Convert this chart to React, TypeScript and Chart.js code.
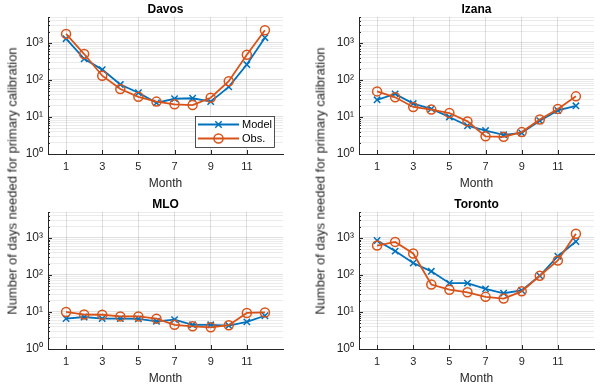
import React, { useEffect, useRef } from 'react';
import { Chart, registerables } from 'chart.js';

Chart.register(...registerables);

// ---- data ----
const months = [1, 2, 3, 4, 5, 6, 7, 8, 9, 10, 11, 12];
const xTickValues = [1, 3, 5, 7, 9, 11];
const yDecades = [1, 10, 100, 1000];
const yMinorSteps = [1, 2, 3, 4, 5, 6, 7, 8, 9];
const yMin = 1;
const yMax = 5000;

const davosModel = [1300, 370, 190, 75, 45, 24, 31, 32, 26, 65, 260, 1380];
const davosObs = [1750, 500, 130, 57, 35, 26, 22, 21, 33, 92, 480, 2200];
const izanaModel = [29, 42, 23, 16.5, 10, 5.8, 4.3, 3.3, 3.7, 7.9, 15, 20];
const izanaObs = [49, 34, 18.6, 15.8, 12.8, 7.6, 3.0, 2.9, 3.9, 8.5, 16.5, 36];
const mloModel = [6.6, 7.3, 6.6, 6.6, 6.5, 5.6, 6.2, 4.5, 4.5, 4.3, 5.4, 7.9];
const mloObs = [10, 8.5, 8.4, 7.6, 7.6, 6.6, 4.5, 4.1, 3.85, 4.4, 9.4, 9.7];
const torontoModel = [850, 440, 210, 125, 60, 60, 42, 32, 38, 95, 320, 800];
const torontoObs = [620, 780, 380, 55, 40, 34, 25.6, 23, 36, 95, 245, 1300];

const seriesLabels = ['Model', 'Obs.'];
const xTitle = 'Month';
const yTitle = 'Number of days needed for primary calibration';

// ---- styles ----
const BLUE = '#0072BD';
const ORANGE = '#D95319';
const TEXT = '#262626';
const FONT = '"Liberation Sans", Arial, Helvetica, sans-serif';
const GRID_MAJOR = 'rgba(38,38,38,0.15)';
const GRID_MINOR = 'rgba(38,38,38,0.09)';

const yTickValues: number[] = [];
yDecades.forEach((d) => yMinorSteps.forEach((s) => { if (d * s <= yMax) yTickValues.push(d * s); }));

const SUP: Record<string, string> = { '0': '\u2070', '1': '\u00B9', '2': '\u00B2', '3': '\u00B3', '4': '\u2074', '5': '\u2075' };
const isDecade = (v: number) => {
  const e = Math.log10(v);
  return Math.abs(e - Math.round(e)) < 1e-9;
};

function drawCross(ctx: CanvasRenderingContext2D, x: number, y: number, r: number) {
  ctx.beginPath();
  ctx.moveTo(x - r, y - r); ctx.lineTo(x + r, y + r);
  ctx.moveTo(x - r, y + r); ctx.lineTo(x + r, y - r);
  ctx.stroke();
}

type PanelProps = {
  title: string;
  model: number[];
  obs: number[];
  left: number;
  top: number;
  yAxisWidth: number;
  rightPad: number;
  showLegend?: boolean;
};

function Panel({ title, model, obs, left, top, yAxisWidth, rightPad, showLegend }: PanelProps) {
  const ref = useRef<HTMLCanvasElement>(null);
  useEffect(() => {
    const canvas = ref.current!;
    const decor = {
      id: 'decor',
      beforeDatasetsDraw(chart: any) {
        const { ctx, chartArea } = chart;
        const ys = chart.scales.y;
        const xs = chart.scales.x;
        ctx.save();
        ctx.strokeStyle = TEXT;
        ctx.lineWidth = 1;
        yTickValues.forEach((v) => {
          const y = Math.round(ys.getPixelForValue(v)) + 0.5;
          const len = isDecade(v) ? 4 : 2;
          ctx.beginPath();
          ctx.moveTo(chartArea.left, y);
          ctx.lineTo(chartArea.left + len, y);
          ctx.stroke();
        });
        xTickValues.forEach((v) => {
          const x = Math.round(xs.getPixelForValue(v)) + 0.5;
          ctx.beginPath();
          ctx.moveTo(x, chartArea.bottom);
          ctx.lineTo(x, chartArea.bottom - 4);
          ctx.stroke();
        });
        ctx.restore();
      },
      afterDraw(chart: any) {
        const { ctx, chartArea } = chart;
        ctx.save();
        ctx.fillStyle = '#000';
        ctx.font = `bold 12px ${FONT}`;
        ctx.textAlign = 'center';
        ctx.textBaseline = 'middle';
        ctx.fillText(title, (chartArea.left + chartArea.right) / 2, chartArea.top - 7);
        if (showLegend) {
          const w = 79, h = 31;
          const bx = chartArea.right - 9 - w;
          const by = chartArea.bottom - 7 - h;
          ctx.fillStyle = '#fff';
          ctx.fillRect(bx, by, w, h);
          ctx.strokeStyle = TEXT;
          ctx.lineWidth = 0.8;
          ctx.strokeRect(bx + 0.5, by + 0.5, w, h);
          const rows = [by + 8.5, by + 22.5];
          const colors = [BLUE, ORANGE];
          rows.forEach((ry, i) => {
            ctx.strokeStyle = colors[i];
            ctx.lineWidth = 1.8;
            ctx.beginPath();
            ctx.moveTo(bx + 3, ry);
            ctx.lineTo(bx + 44, ry);
            ctx.stroke();
            ctx.lineWidth = 1.5;
            if (i === 0) {
              drawCross(ctx, bx + 23.5, ry, 3.2);
            } else {
              ctx.beginPath();
              ctx.arc(bx + 23.5, ry, 4.5, 0, Math.PI * 2);
              ctx.stroke();
            }
            ctx.fillStyle = '#000';
            ctx.font = `11px ${FONT}`;
            ctx.textAlign = 'left';
            ctx.textBaseline = 'middle';
            ctx.fillText(seriesLabels[i], bx + 47, ry + 0.5);
          });
        }
        ctx.restore();
      },
    };

    const chart = new Chart(canvas, {
      type: 'line',
      data: {
        datasets: [
          {
            label: seriesLabels[0],
            data: months.map((m, i) => ({ x: m, y: model[i] })),
            borderColor: BLUE,
            backgroundColor: BLUE,
            pointBorderColor: BLUE,
            pointStyle: 'crossRot',
            pointRadius: 4.5,
            pointBorderWidth: 1.5,
            borderWidth: 1.8,
            order: 2,
            tension: 0,
          },
          {
            label: seriesLabels[1],
            data: months.map((m, i) => ({ x: m, y: obs[i] })),
            borderColor: ORANGE,
            backgroundColor: 'rgba(0,0,0,0)',
            pointBorderColor: ORANGE,
            pointBackgroundColor: 'rgba(0,0,0,0)',
            pointStyle: 'circle',
            pointRadius: 4.5,
            pointBorderWidth: 1.5,
            borderWidth: 1.8,
            order: 1,
            tension: 0,
          },
        ],
      },
      options: {
        animation: false,
        responsive: false,
        maintainAspectRatio: false,
        events: [],
        layout: { padding: { top: 17, right: rightPad, left: 0, bottom: 0 } },
        plugins: {
          legend: { display: false },
          tooltip: { enabled: false },
          title: { display: false },
        },
        scales: {
          x: {
            type: 'linear',
            min: 0,
            max: 13,
            afterBuildTicks: (s: any) => { s.ticks = xTickValues.map((v) => ({ value: v })); },
            afterFit: (s: any) => { s.height = 41; },
            grid: { color: GRID_MAJOR, lineWidth: 1, drawTicks: false },
            border: { display: true, color: TEXT, width: 1 },
            ticks: {
              autoSkip: false,
              maxRotation: 0,
              padding: 6,
              color: TEXT,
              font: { family: FONT, size: 11 },
              callback: (v: any) => String(v),
            },
            title: {
              display: true,
              text: xTitle,
              color: TEXT,
              font: { family: FONT, size: 12 },
              padding: { top: 0, bottom: 4 },
            },
          },
          y: {
            type: 'logarithmic',
            min: yMin,
            max: yMax,
            afterBuildTicks: (s: any) => { s.ticks = yTickValues.map((v) => ({ value: v, major: isDecade(v) })); },
            afterFit: (s: any) => { s.width = yAxisWidth; },
            grid: {
              color: (c: any) => (c.tick && isDecade(c.tick.value) ? GRID_MAJOR : GRID_MINOR),
              lineWidth: 1,
              drawTicks: false,
            },
            border: { display: true, color: TEXT, width: 1 },
            ticks: {
              autoSkip: false,
              padding: 5,
              color: TEXT,
              font: { family: FONT, size: 12 },
              callback: (v: any) => {
                const n = Number(v);
                if (!isDecade(n)) return '';
                const e = String(Math.round(Math.log10(n)));
                return '10' + e.split('').map((d) => SUP[d]).join('');
              },
            },
          },
        },
      },
      plugins: [decor],
    } as any);
    return () => chart.destroy();
  }, []);

  return (
    <canvas
      ref={ref}
      width={300}
      height={195}
      style={{ position: 'absolute', left, top, width: 300, height: 195, display: 'block' }}
    />
  );
}

function YLabel({ cx, cy }: { cx: number; cy: number }) {
  return (
    <div
      style={{
        position: 'absolute',
        left: cx,
        top: cy,
        transform: 'translate(-50%, -50%) rotate(-90deg)',
        whiteSpace: 'nowrap',
        fontFamily: FONT,
        fontSize: 13,
        color: TEXT,
        lineHeight: '15px',
      }}
    >
      {yTitle}
    </div>
  );
}

export default function App() {
  return (
    <div
      style={{
        position: 'absolute',
        left: 0,
        top: 0,
        width: 600,
        height: 387,
        overflow: 'hidden',
        background: '#fff',
      }}
    >
      <Panel title="Davos" model={davosModel} obs={davosObs} left={0} top={0} yAxisWidth={48} rightPad={17} showLegend />
      <Panel title="Izana" model={izanaModel} obs={izanaObs} left={300} top={0} yAxisWidth={59} rightPad={5} />
      <Panel title="MLO" model={mloModel} obs={mloObs} left={0} top={195} yAxisWidth={48} rightPad={17} />
      <Panel title="Toronto" model={torontoModel} obs={torontoObs} left={300} top={195} yAxisWidth={59} rightPad={5} />
      <YLabel cx={12} cy={181} />
      <YLabel cx={320} cy={181} />
    </div>
  );
}
